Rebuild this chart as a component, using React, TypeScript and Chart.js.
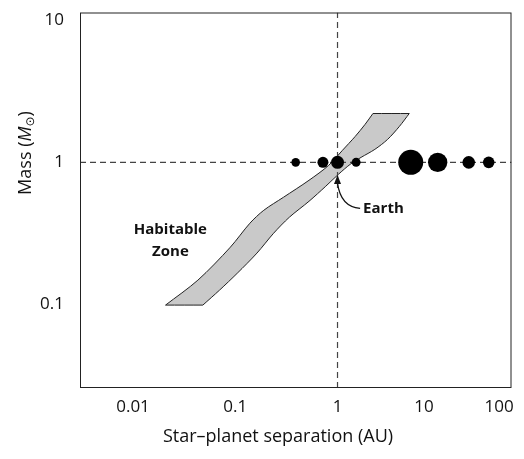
import React, { useEffect, useRef } from "react";
import { Chart, registerables } from "chart.js";

Chart.register(...registerables);

// ---------- data ----------
const planetNames = ["Mercury", "Venus", "Earth", "Mars", "Jupiter", "Saturn", "Uranus", "Neptune"];
const planetAU = [0.39, 0.72, 1.0, 1.52, 5.2, 9.54, 19.2, 30.1];
const planetHostMass = [1, 1, 1, 1, 1, 1, 1, 1];
const planetDotRadius = [4.3, 5.5, 6.5, 4.5, 12.5, 9.7, 6.3, 5.8];

// habitable zone: inner (star-side) and outer edges, from low to high stellar mass
const hzInnerAU = [0.0208, 0.0431, 0.0895, 0.139, 0.19, 0.296, 0.526, 0.819, 1.117, 1.49, 1.86, 2.22];
const hzInnerMass = [0.0984, 0.1476, 0.252, 0.372, 0.459, 0.567, 0.747, 0.952, 1.215, 1.524, 1.853, 2.21];
const hzOuterAU = [0.0482, 0.0702, 0.1045, 0.163, 0.237, 0.338, 0.526, 0.767, 1.02, 1.33, 1.7, 2.32, 3.09, 4.03, 5.03];
const hzOuterMass = [0.0984, 0.1255, 0.165, 0.229, 0.316, 0.41, 0.531, 0.678, 0.823, 0.968, 1.084, 1.235, 1.452, 1.793, 2.21];

const xTickValues = [0.01, 0.1, 1, 7.0, 38];
const xTickLabels = ["0.01", "0.1", "1", "10", "100"];
const yTickValues = [0.1, 1, 10];
const yTickLabels = ["0.1", "1", "10"];
const xRange = [0.00303, 50.3];
const yRange = [0.0256, 11.4];

const sunMass = 1;
const earthAU = 1;

const hzLabelAt = { au: 0.0232, mass: 0.332 };
const earthLabelAt = { au: 1.78, mass: 0.474 };
const earthArrowTip = { au: 1, mass: 0.8 };

const FONT = "'Open Sans', 'DejaVu Sans', sans-serif";
const INK = "#111";

const decorPlugin = {
  id: "decor",
  afterDatasetsDraw(chart: any) {
    const { ctx } = chart;
    const xs = chart.scales.x;
    const ys = chart.scales.y;
    ctx.save();
    ctx.fillStyle = INK;
    ctx.strokeStyle = INK;
    ctx.font = `bold 15px ${FONT}`;
    ctx.textAlign = "center";
    ctx.textBaseline = "middle";
    const hx = xs.getPixelForValue(hzLabelAt.au);
    const hy = ys.getPixelForValue(hzLabelAt.mass);
    ctx.fillText("Habitable", hx, hy);
    ctx.fillText("Zone", hx, hy + 22);
    const ex = xs.getPixelForValue(earthLabelAt.au);
    const ey = ys.getPixelForValue(earthLabelAt.mass);
    ctx.textAlign = "left";
    ctx.fillText("Earth", ex, ey);
    const tx = xs.getPixelForValue(earthArrowTip.au);
    const ty = ys.getPixelForValue(earthArrowTip.mass);
    ctx.lineWidth = 1.2;
    ctx.beginPath();
    ctx.moveTo(ex - 3, ey);
    ctx.bezierCurveTo(ex - 16, ey - 1, tx + 2, ty + 22, tx, ty + 7);
    ctx.stroke();
    ctx.beginPath();
    ctx.moveTo(tx, ty - 1);
    ctx.lineTo(tx - 3.5, ty + 8);
    ctx.lineTo(tx + 3.5, ty + 8);
    ctx.closePath();
    ctx.fill();
    ctx.restore();
  },
  afterDraw(chart: any) {
    const { ctx, chartArea } = chart;
    ctx.save();
    ctx.strokeStyle = "#222";
    ctx.lineWidth = 1;
    ctx.strokeRect(chartArea.left + 0.5, chartArea.top + 0.5, chartArea.right - chartArea.left - 1, chartArea.bottom - chartArea.top - 1);
    ctx.fillStyle = INK;
    ctx.font = `18px ${FONT}`;
    ctx.textAlign = "center";
    ctx.textBaseline = "middle";
    ctx.fillText("Star\u2013planet separation (AU)", 278, 437);
    ctx.translate(31, 153);
    ctx.rotate(-Math.PI / 2);
    ctx.textAlign = "left";
    ctx.textBaseline = "alphabetic";
    const parts = [
      { t: "Mass (", f: `18px ${FONT}`, dy: 0 },
      { t: "M", f: `italic 18px ${FONT}`, dy: 0 },
      { t: "\u2299", f: `12px ${FONT}`, dy: 3 },
      { t: ")", f: `18px ${FONT}`, dy: 0 },
    ];
    let total = 0;
    for (const p of parts) {
      ctx.font = p.f;
      total += ctx.measureText(p.t).width;
    }
    let x = -total / 2;
    for (const p of parts) {
      ctx.font = p.f;
      ctx.fillText(p.t, x, p.dy);
      x += ctx.measureText(p.t).width;
    }
    ctx.restore();
  },
};

function zeroPadding(s: any) {
  s.paddingTop = 0;
  s.paddingBottom = 0;
  s.paddingLeft = 0;
  s.paddingRight = 0;
}

export default function App() {
  const ref = useRef<HTMLCanvasElement>(null);
  useEffect(() => {
    const canvas = ref.current;
    if (!canvas) return;
    const n = hzInnerAU.length;
    const m = hzOuterAU.length;
    const inner = hzInnerAU.map((x, i) => ({ x, y: hzInnerMass[i] }));
    const outer = hzOuterAU.map((x, i) => ({ x, y: hzOuterMass[i] })).reverse();
    // corners duplicated so the spline keeps them sharp
    const hzPolygon = [inner[0], ...inner, inner[n - 1], outer[0], ...outer, outer[m - 1], inner[0], inner[0]];
    Chart.defaults.font.family = FONT;
    Chart.defaults.color = INK;
    const chart = new Chart(canvas, {
      type: "scatter",
      data: {
        datasets: [
          {
            type: "bubble",
            label: "Solar System planets",
            data: planetAU.map((x, i) => ({ x, y: planetHostMass[i], r: planetDotRadius[i], name: planetNames[i] })),
            backgroundColor: "#000",
            borderColor: "#000",
            borderWidth: 0,
            order: 0,
          } as any,
          {
            type: "line",
            label: "1 solar mass",
            data: [
              { x: xRange[0], y: sunMass },
              { x: xRange[1], y: sunMass },
            ],
            borderColor: "#444",
            borderWidth: 1.2,
            borderDash: [6, 4],
            pointRadius: 0,
            fill: false,
            order: 1,
          },
          {
            type: "line",
            label: "1 AU",
            data: [
              { x: earthAU, y: yRange[0] },
              { x: earthAU, y: yRange[1] },
            ],
            borderColor: "#444",
            borderWidth: 1.2,
            borderDash: [6, 4],
            pointRadius: 0,
            fill: false,
            order: 1,
          },
          {
            type: "line",
            label: "Habitable zone",
            data: hzPolygon,
            borderColor: "#222",
            borderWidth: 1,
            backgroundColor: "#c9c9c9",
            fill: "shape",
            pointRadius: 0,
            tension: 0.3,
            order: 2,
          } as any,
        ],
      },
      options: {
        animation: false,
        responsive: false,
        layout: { padding: { top: 12, right: 5, left: 0, bottom: 0 } },
        plugins: { legend: { display: false }, tooltip: { enabled: false } },
        scales: {
          x: {
            type: "logarithmic",
            min: xRange[0],
            max: xRange[1],
            bounds: "data",
            grid: { display: false, drawTicks: false },
            border: { display: false },
            afterBuildTicks: (s: any) => {
              s.ticks = xTickValues.map((v) => ({ value: v }));
            },
            afterFit: (s: any) => {
              s.height = 71;
              zeroPadding(s);
            },
            ticks: {
              autoSkip: false,
              maxRotation: 0,
              padding: 9,
              color: INK,
              font: { size: 17 },
              callback: (_v: any, i: number) => xTickLabels[i],
            },
          },
          y: {
            type: "logarithmic",
            min: yRange[0],
            max: yRange[1],
            bounds: "data",
            grid: { display: false, drawTicks: false },
            border: { display: false },
            afterBuildTicks: (s: any) => {
              s.ticks = yTickValues.map((v) => ({ value: v }));
            },
            afterFit: (s: any) => {
              s.width = 80;
              zeroPadding(s);
            },
            ticks: {
              autoSkip: false,
              padding: 16,
              color: INK,
              font: { size: 17 },
              callback: (_v: any, i: number) => yTickLabels[i],
            },
          },
        } as any,
      },
      plugins: [decorPlugin],
    });
    return () => chart.destroy();
  }, []);
  return (
    <div style={{ position: "fixed", left: 0, top: 0, width: 524, height: 459, background: "#fff" }}>
      <canvas ref={ref} width={524} height={459} style={{ display: "block", width: 524, height: 459 }} />
    </div>
  );
}
